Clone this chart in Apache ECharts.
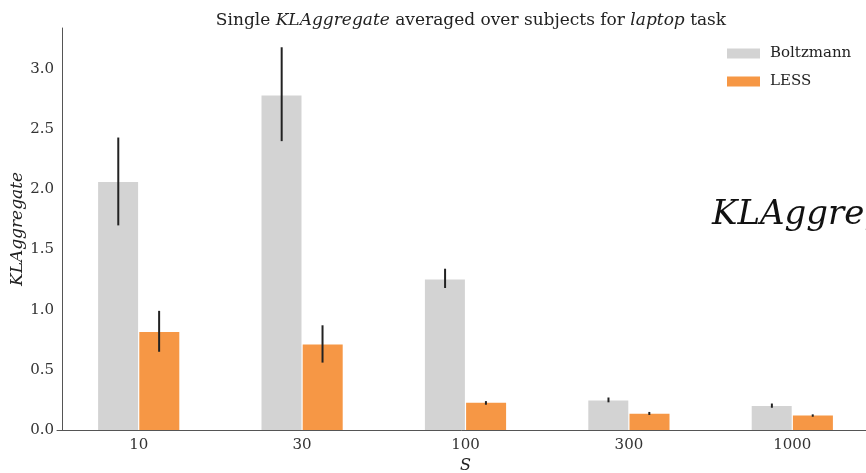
<!DOCTYPE html>
<html>
<head>
<meta charset="utf-8">
<script src="https://cdn.jsdelivr.net/npm/echarts@6/dist/echarts.min.js"></script>
<style>
  html, body { margin: 0; padding: 0; background: #fff; }
  #chart { width: 866px; height: 473px; }
</style>
</head>
<body>
<div id="chart"></div>
<script>
// 数据
const sizes = ['10', '30', '100', '300', '1000'];
const boltzmann = [2.06, 2.78, 1.25, 0.245, 0.20];
const boltzmannErr = [[1.70, 2.43], [2.40, 3.18], [1.18, 1.34], [0.23, 0.27], [0.185, 0.22]];
const less = [0.815, 0.71, 0.227, 0.135, 0.12];
const lessErr = [[0.65, 0.99], [0.56, 0.87], [0.21, 0.24], [0.125, 0.15], [0.11, 0.13]];

const serif = '"DejaVu Serif", serif';

// 误差线（custom series）
function errorSeries(errs, shift) {
  return {
    type: 'custom',
    silent: true,
    z: 5,
    data: errs.map((e, i) => [i, e[0], e[1]]),
    renderItem: function (params, api) {
      const band = api.size([1, 0])[0];
      const dx = band * shift;
      const lo = api.coord([api.value(0), api.value(1)]);
      const hi = api.coord([api.value(0), api.value(2)]);
      return {
        type: 'line',
        shape: { x1: lo[0] + dx, y1: lo[1], x2: hi[0] + dx, y2: hi[1] },
        style: { stroke: '#222', lineWidth: 2 }
      };
    }
  };
}

const myChart = echarts.init(document.getElementById('chart'));
const option = {
  animation: false,
  textStyle: { fontFamily: serif },
  title: {
    text: 'Single {i|KLAggregate} averaged over subjects for {i|laptop} task',
    left: 466,
    textAlign: 'center',
    top: 7,
    textStyle: {
      fontFamily: serif, fontSize: 17, fontWeight: 'normal', color: '#222',
      rich: { i: { fontFamily: serif, fontSize: 17, fontStyle: 'italic', color: '#222' } }
    }
  },
  legend: {
    orient: 'vertical',
    left: 722,
    top: 41,
    icon: 'rect',
    itemWidth: 33,
    itemHeight: 10,
    itemGap: 13,
    textStyle: { fontFamily: serif, fontSize: 15, color: '#222', padding: [0, 0, 0, 5] },
    data: ['Boltzmann', 'LESS']
  },
  grid: { left: 57, width: 817, top: 28, bottom: 43, outerBoundsMode: 'none' },
  xAxis: {
    type: 'category',
    data: sizes,
    name: 'S',
    nameLocation: 'middle',
    nameGap: 28,
    nameMoveOverlap: false,
    nameTextStyle: { fontFamily: serif, fontStyle: 'italic', fontSize: 16, color: '#222' },
    axisLine: { lineStyle: { color: '#555', width: 1 } },
    axisTick: { show: false },
    axisLabel: { fontFamily: serif, fontSize: 15, color: '#333', margin: 8 }
  },
  yAxis: {
    type: 'value',
    min: 0,
    max: 3.34,
    interval: 0.5,
    offset: -5,
    name: 'KLAggregate',
    nameLocation: 'middle',
    nameGap: 36,
    nameMoveOverlap: false,
    nameTextStyle: { fontFamily: serif, fontStyle: 'italic', fontSize: 17, color: '#222' },
    axisLine: { show: true, lineStyle: { color: '#555', width: 1 } },
    axisTick: { show: false },
    splitLine: { show: false },
    axisLabel: {
      fontFamily: serif, fontSize: 15, color: '#333', margin: 8, showMaxLabel: false,
      formatter: v => v.toFixed(1)
    }
  },
  series: [
    {
      name: 'Boltzmann',
      type: 'bar',
      data: boltzmann,
      barWidth: 40,
      barGap: '3%',
      itemStyle: { color: '#d3d3d3' }
    },
    {
      name: 'LESS',
      type: 'bar',
      data: less,
      barWidth: 40,
      itemStyle: { color: '#f69745' }
    },
    errorSeries(boltzmannErr, -0.125),
    errorSeries(lessErr, 0.125)
  ],
  graphic: [{
    type: 'text',
    left: 712,
    top: 198,
    style: {
      text: 'KLAggregate',
      fontFamily: serif,
      fontStyle: 'italic',
      fontSize: 34,
      fill: '#111'
    }
  }]
};
myChart.setOption(option);
</script>
</body>
</html>
